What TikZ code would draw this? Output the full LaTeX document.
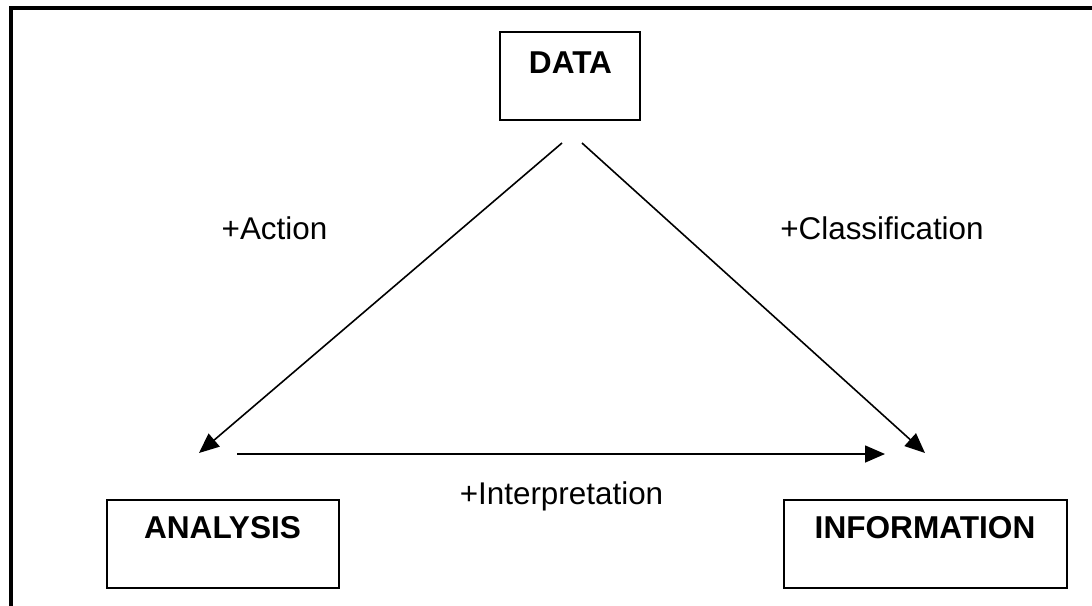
\documentclass[tikz,border=0pt]{standalone}
\usepackage{fontspec}
\setmainfont{Liberation Sans}
\usetikzlibrary{arrows.meta}
\begin{document}
\begin{tikzpicture}[x=1pt,y=-1pt,
  box/.style={draw,line width=2pt,inner sep=0pt},
  title/.style={font=\fontsize{31.6}{36}\selectfont\bfseries,anchor=base,inner sep=0pt},
  lbl/.style={font=\fontsize{31.4}{36}\selectfont,anchor=base,inner sep=0pt},
  link/.style={line width=1.6pt,-{Triangle[length=20pt,width=17pt]}}]
  \useasboundingbox (0,0) rectangle (1092,605);
  \clip (0,0) rectangle (1092,605);
  % outer frame, running past the right and bottom edges
  \draw[line width=4pt] (10.5,8) rectangle (1120,640);

  % boxes
  \node[box,minimum width=140pt,minimum height=88pt] (data) at (570,76) {};
  \node[box,minimum width=232pt,minimum height=88pt] (analysis) at (223,544) {};
  \node[box,minimum width=283pt,minimum height=88pt] (information) at (925.5,544) {};

  % box titles
  \node[title] (tdata) at (570.5,73) {DATA};
  \node[title] (tanalysis) at (222.5,538) {ANALYSIS};
  \node[title] (tinformation) at (925,538) {INFORMATION};

  % connector ends
  \coordinate (dl) at (562,143);
  \coordinate (dr) at (582,143);
  \coordinate (al) at (199,453);
  \coordinate (ir) at (925,453);
  \coordinate (hs) at (237,454);
  \coordinate (he) at (885,454);

  \draw[link] (dl) -- (al);
  \draw[link] (dr) -- (ir);
  \draw[link] (hs) -- (he);

  % transition labels
  \node[lbl] (action) at (274.5,239) {+Action};
  \node[lbl] (classification) at (882,239) {+Classification};
  \node[lbl] (interpretation) at (561.5,504) {+Interpretation};
\end{tikzpicture}
\end{document}
